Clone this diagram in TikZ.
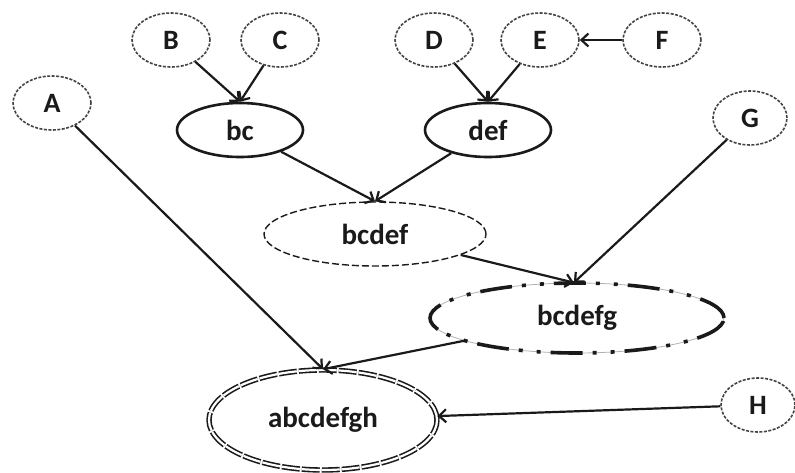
\documentclass[tikz,border=0pt]{standalone}
\usepackage{fontspec}
\setmainfont{Carlito}
\usepackage{tikz}
\usetikzlibrary{shapes.geometric,arrows.meta}
\definecolor{ink}{HTML}{1A1A1A}
\definecolor{rim}{HTML}{444444}

\tikzset{
  leaf/.style={ellipse,draw=rim,line width=1.6pt,dash pattern=on 3pt off 1.5pt,fill=white,
    minimum width=78pt,minimum height=54pt,inner sep=0pt,
    font=\fontsize{28}{30}\selectfont\bfseries,text=ink},
  merge/.style={ellipse,draw=ink,line width=2.6pt,minimum width=126pt,
    minimum height=54pt,inner sep=0pt,font=\fontsize{29}{30}\selectfont\bfseries,text=ink},
  link/.style={ink,line width=2.2pt,-{Straight Barb[length=7pt,width=13pt]}}
}

\begin{document}
\begin{tikzpicture}[x=1pt,y=-1pt]
  \useasboundingbox (0,0) rectangle (795,472);

  % --- Hojas ---
  \node[leaf] (A) at (52,103) {A};
  \node[leaf] (B) at (171,40) {B};
  \node[leaf] (C) at (280,40) {C};
  \node[leaf] (D) at (434,40) {D};
  \node[leaf] (E) at (540,40) {E};
  \node[leaf] (F) at (662,40) {F};
  \node[leaf,minimum width=74pt] (G) at (750,118) {G};
  \node[leaf,minimum width=74pt] (H) at (758,405) {H};

  % --- Uniones ---
  \node[merge] (bc) at (240,130) {bc};
  \node[merge] (def) at (488,130) {def};
  \node[merge,draw=ink,line width=1.4pt,dash pattern=on 7pt off 3pt,minimum width=222pt,minimum height=64pt]
    (bcdef) at (375,234) {bcdef};
  \node[merge,draw=gray!60,line width=0.8pt,minimum width=294pt,minimum height=70pt,
    postaction={draw=ink,line width=3.6pt,dash pattern=on 32pt off 10pt on 4pt off 14pt on 4pt off 10pt}]
    (bcdefg) at (577,318) {bcdefg};
  \node[merge,line width=1.6pt,double,double distance=2.2pt,dash pattern=on 18pt off 2pt,
    minimum width=228pt,minimum height=100pt] (abcdefgh) at (323,420) {abcdefgh};

  % --- Aristas ---
  \draw[link] (B) -- (bc.north);
  \draw[link] (C) -- (bc.north);
  \draw[link] (D) -- (def.north);
  \draw[link] (E) -- (def.north);
  \draw[link] (F) -- (E);
  \draw[link] (bc) -- (bcdef.north);
  \draw[link] (def) -- (bcdef.north);
  \draw[link] (bcdef) -- (bcdefg.95);
  \draw[link] (G) -- (bcdefg.95);
  \draw[link] (A) -- (abcdefgh.north);
  \draw[link] (bcdefg) -- (abcdefgh.north);
  \draw[link] (H) -- (abcdefgh);
\end{tikzpicture}
\end{document}
